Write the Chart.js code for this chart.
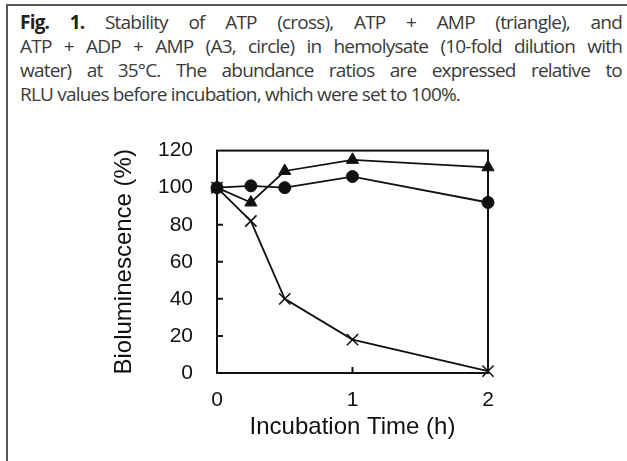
<!DOCTYPE html>
<html>
<head>
<meta charset="utf-8">
<script src="https://cdn.jsdelivr.net/npm/chart.js@4/dist/chart.umd.min.js"></script>
<style>
  html, body { margin: 0; padding: 0; background: #fff; }
  body { width: 627px; height: 461px; position: relative; overflow: hidden; }
  #box {
    position: absolute; left: 6px; top: 4px; right: -10px; bottom: -10px;
    border-left: 2px solid #555; border-top: 2px solid #555;
  }
  #caption {
    position: absolute; left: 20px; top: 10px; width: 602px; margin: 0;
    font-family: "Open Sans", Lato, sans-serif; font-size: 19px; line-height: 24px;
    letter-spacing: -0.8px; color: #3a3a3a;
  }
  #caption span { display: block; white-space: nowrap; text-align: justify; text-align-last: justify; }
  #caption span.last { text-align-last: left; }
  #caption b { color: #222; font-weight: 700; }
  #wrap { position: absolute; left: 100px; top: 114px; width: 420px; height: 343px; }
</style>
</head>
<body>
<div id="box"></div>
<p id="caption"><span><b>Fig. 1.</b> Stability of ATP (cross), ATP + AMP (triangle), and</span><span>ATP + ADP + AMP (A3, circle) in hemolysate (10-fold dilution with</span><span>water) at 35°C. The abundance ratios are expressed relative to</span><span class="last">RLU values before incubation, which were set to 100%.</span></p>
<div id="wrap"><canvas id="chart"></canvas></div>
<script>
// valores (% relativo ao RLU antes da incubação)
const times = [0, 0.25, 0.5, 1, 2];
const atp = [100, 82, 40, 18, 1];        // cruz
const atpAmp = [100, 92, 109, 115, 111]; // triângulo
const a3 = [100, 101, 100, 106, 92];     // círculo
const yTicks = [0, 20, 40, 60, 80, 100, 120];
const xTicks = [0, 1, 2];

function pontos(vals) {
  return times.map((t, i) => ({ x: t, y: vals[i] }));
}

// moldura do gráfico + marcas de escala para dentro
const moldura = {
  id: 'moldura',
  beforeDatasetsDraw(chart) {
    const { ctx, chartArea: a, scales } = chart;
    ctx.save();
    ctx.strokeStyle = '#111';
    ctx.lineWidth = 2;
    ctx.strokeRect(a.left, a.top, a.right - a.left, a.bottom - a.top);
    ctx.beginPath();
    yTicks.slice(1, -1).forEach(v => {
      const y = scales.y.getPixelForValue(v);
      ctx.moveTo(a.left, y);
      ctx.lineTo(a.left + 6, y);
    });
    xTicks.slice(1, -1).forEach(v => {
      const x = scales.x.getPixelForValue(v);
      ctx.moveTo(x, a.bottom);
      ctx.lineTo(x, a.bottom - 6);
    });
    ctx.stroke();
    ctx.restore();
  }
};

const base = {
  borderColor: '#111',
  backgroundColor: '#111',
  borderWidth: 1.8,
  pointBorderColor: '#111',
  pointBackgroundColor: '#111',
  showLine: true,
  clip: false
};

const fonte = 'Arial, "Liberation Sans"';

new Chart(document.getElementById('chart'), {
  type: 'scatter',
  data: {
    datasets: [
      { ...base, label: 'ATP', data: pontos(atp), pointStyle: 'crossRot', pointRadius: 8, pointBorderWidth: 1.6 },
      { ...base, label: 'ATP + AMP', data: pontos(atpAmp), pointStyle: 'triangle', pointRadius: 7, pointBorderWidth: 1 },
      { ...base, label: 'A3', data: pontos(a3), pointStyle: 'circle', pointRadius: 6, pointBorderWidth: 1 }
    ]
  },
  plugins: [moldura],
  options: {
    responsive: true,
    maintainAspectRatio: false,
    animation: false,
    layout: { padding: { top: 14, right: 32, left: 0, bottom: 0 } },
    plugins: { legend: { display: false }, tooltip: { enabled: false } },
    scales: {
      x: {
        type: 'linear', min: 0, max: 2,
        afterBuildTicks: s => { s.ticks = xTicks.map(v => ({ value: v })); },
        grid: { display: false, drawTicks: false },
        border: { display: false },
        ticks: { color: '#111', padding: 15, font: { family: fonte, size: 21 } },
        title: { display: true, text: 'Incubation Time (h)', color: '#111', padding: { top: 4, bottom: 15 },
                 font: { family: fonte, size: 24 } },
        afterFit: s => { s.height = 84; }
      },
      y: {
        min: 0, max: 120,
        afterBuildTicks: s => { s.ticks = yTicks.map(v => ({ value: v })); },
        grid: { display: false, drawTicks: false },
        border: { display: false },
        ticks: { color: '#111', padding: 24, font: { family: fonte, size: 21 } },
        title: { display: true, text: 'Bioluminescence (%)', color: '#111', padding: { top: 10, bottom: 0 },
                 font: { family: fonte, size: 24 } },
        afterFit: s => { s.width = 117; }
      }
    }
  }
});
</script>
</body>
</html>
